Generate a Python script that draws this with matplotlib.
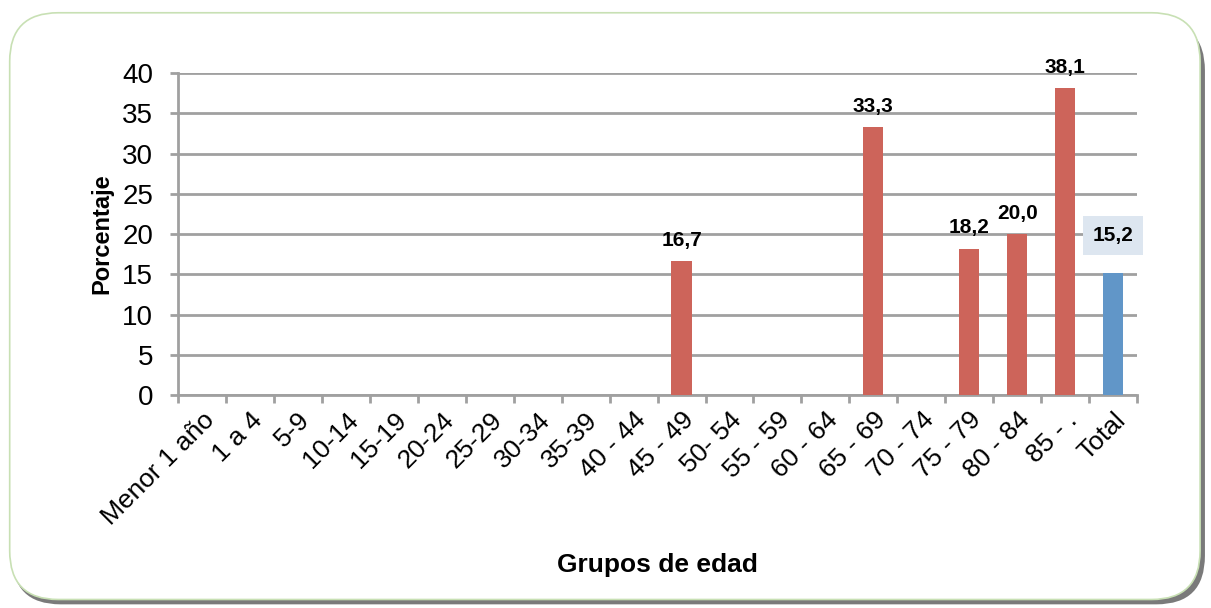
import matplotlib.pyplot as plt
from matplotlib.patches import FancyBboxPatch
import numpy as np

plt.rcParams['font.family'] = ['Liberation Sans', 'DejaVu Sans']

grupos = ['Menor 1 año', '1 a 4', '5-9', '10-14', '15-19', '20-24', '25-29',
          '30-34', '35-39', '40 - 44', '45 - 49', '50- 54', '55 - 59', '60 - 64',
          '65 - 69', '70 - 74', '75 - 79', '80 - 84', '85 - .', 'Total']
porcentaje = [0, 0, 0, 0, 0, 0, 0, 0, 0, 0, 16.7, 0, 0, 0, 33.3, 0, 18.2, 20.0, 38.1, 15.2]
yticks = [0, 5, 10, 15, 20, 25, 30, 35, 40]

red = '#cd645a'
blue = '#6196c8'
grid_c = '#a0a0a0'

fig = plt.figure(figsize=(12.11, 6.08), dpi=100)

# rounded frame with shadow
shadow = FancyBboxPatch((0.010, 0.006), 0.985, 0.958,
                        boxstyle='round,pad=0,rounding_size=0.04',
                        transform=fig.transFigure, facecolor='#7a7a7a',
                        edgecolor='none', mutation_aspect=2.0, zorder=-10)
frame = FancyBboxPatch((0.008, 0.014), 0.983, 0.965,
                       boxstyle='round,pad=0,rounding_size=0.04',
                       transform=fig.transFigure, facecolor='white',
                       edgecolor='#c8e0b4', lw=1.2, mutation_aspect=2.0, zorder=-9)
fig.patches.extend([shadow, frame])

ax = fig.add_axes([0.147, 0.350, 0.792, 0.530])
ax.set_facecolor('none')

x = np.arange(len(grupos))
colors = [blue if g == 'Total' else red for g in grupos]
ax.bar(x, porcentaje, width=0.42, color=colors, zorder=3)

for xi, v, g in zip(x, porcentaje, grupos):
    if v <= 0:
        continue
    if g == 'Total':
        ax.annotate(f'{v:.1f}'.replace('.', ','), (xi, v), xytext=(0, 20),
                    textcoords='offset points', ha='center', va='bottom',
                    fontsize=15, fontweight='bold', zorder=4,
                    bbox=dict(facecolor='#dde6f0', edgecolor='none', pad=7))
    else:
        ax.annotate(f'{v:.1f}'.replace('.', ','), (xi, v), xytext=(0, 8),
                    textcoords='offset points', ha='center', va='bottom',
                    fontsize=15, fontweight='bold', zorder=4)

ax.set_xlim(-0.5, len(grupos) - 0.5)
ax.set_ylim(0, 40)
ax.set_yticks(yticks)
ax.yaxis.grid(True, color=grid_c, lw=2, zorder=0)
ax.tick_params(axis='y', labelsize=20, length=6, width=2, color=grid_c,
               direction='out', pad=12)

ax.set_xticks(x)
ax.set_xticklabels(grupos, rotation=45, ha='right', rotation_mode='anchor', fontsize=19)
ax.tick_params(axis='x', length=0, pad=9)
ax.set_xticks(np.arange(-0.5, len(grupos)), minor=True)
ax.tick_params(axis='x', which='minor', length=6, width=2, color=grid_c, direction='out')

for s in ['top', 'right']:
    ax.spines[s].set_visible(False)
for s in ['left', 'bottom']:
    ax.spines[s].set_color(grid_c)
    ax.spines[s].set_linewidth(2)

ax.set_ylabel('Porcentaje', fontsize=17, fontweight='bold', labelpad=6)
fig.text(0.543, 0.07, 'Grupos de edad', fontsize=19, fontweight='bold', ha='center', va='center')

fig.savefig('out.png', dpi=100)
